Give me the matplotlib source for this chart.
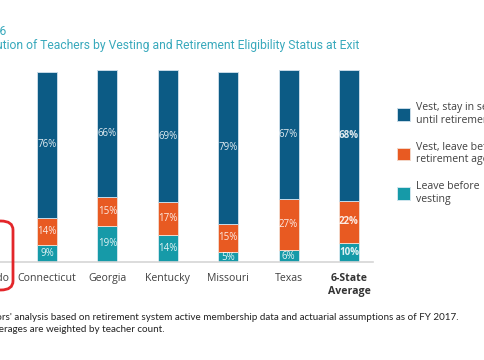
import matplotlib
matplotlib.use("Agg")
import matplotlib.pyplot as plt
import numpy as np
from matplotlib.patches import FancyBboxPatch

plt.rcParams['font.family'] = ['Open Sans', 'DejaVu Sans']

categories = ["Colorado", "Connecticut", "Georgia", "Kentucky", "Missouri", "Texas", "6-State\nAverage"]
stay_until_retire = [np.nan, 76, 66, 69, 79, 67, 68]
leave_before_age = [np.nan, 14, 15, 17, 15, 27, 22]
leave_before_vest = [np.nan, 9, 19, 14, 5, 6, 10]
series_labels = ["Vest, stay in service\nuntil retirement",
                 "Vest, leave before\nretirement age",
                 "Leave before\nvesting"]
title_fig = "Figure 6"
title_text = "Distribution of Teachers by Vesting and Retirement Eligibility Status at Exit"
source_text = "Source: Authors' analysis based on retirement system active membership data and actuarial assumptions as of FY 2017."
note_text = "Note: Averages are weighted by teacher count."

c_blue = "#0c5b85"
c_orange = "#e85a22"
c_teal = "#169aa8"
c_title = "#38a9bc"

W, H = 485, 360
fig = plt.figure(figsize=(W / 100, H / 100), dpi=100)
renderer = fig.canvas.get_renderer()


def fx(px):
    return px / W


def fy(py):
    return 1 - py / H


def fit_size(visible, width_px, family, base=9.0):
    size = base
    for _ in range(4):
        t = fig.text(0, 0, visible, fontsize=size, family=family)
        w = t.get_window_extent(renderer).width
        t.remove()
        size = size * width_px / w
    return size


# axes geometry in pixels: index i center = -13.4 + 60.4*i
xl = (-0.6, 6.4)
left_px = -13.4 + xl[0] * 60.4
right_px = -13.4 + xl[1] * 60.4
ax = fig.add_axes([fx(left_px), fy(262), (right_px - left_px) / W, 192 / H])
ax.set_xlim(*xl)
ax.set_ylim(0, 100)

x = np.arange(len(categories))
bw = 0.33
teal = np.array(leave_before_vest, dtype=float)
orng = np.array(leave_before_age, dtype=float)
blue = np.array(stay_until_retire, dtype=float)

ax.bar(x, teal, bw, color=c_teal, edgecolor="#cfe6ee", linewidth=0.7, label=series_labels[2])
ax.bar(x, orng, bw, bottom=teal, color=c_orange, edgecolor="#f3d7c8", linewidth=0.7, label=series_labels[1])
ax.bar(x, blue, bw, bottom=teal + orng, color=c_blue, edgecolor="#c8dbe8", linewidth=0.7, label=series_labels[0])

for i in range(len(categories)):
    if np.isnan(teal[i]):
        continue
    bold = i == len(categories) - 1
    fw = "bold" if bold else "normal"
    for val, bot in ((teal[i], 0), (orng[i], teal[i]), (blue[i], teal[i] + orng[i])):
        ax.text(x[i], bot + val / 2, f"{int(val)}%", ha="center", va="center",
                fontsize=7.0, color="white", alpha=0.88, fontweight=fw)

for s in ["top", "right", "left"]:
    ax.spines[s].set_visible(False)
ax.spines["bottom"].set_color("#d6d6d6")
ax.spines["bottom"].set_linewidth(1.2)
ax.set_yticks([])
ax.set_xticks(x)
ax.set_xticklabels(categories, fontsize=7.6, color="#404040")
ax.tick_params(axis="x", length=0, pad=8)
for lbl in ax.get_xticklabels():
    if "Average" in lbl.get_text():
        lbl.set_fontweight("bold")
        lbl.set_color("#333333")
        lbl.set_linespacing(1.2)

# legend
handles, labels = ax.get_legend_handles_labels()
order = [2, 1, 0]
leg = fig.legend([handles[k] for k in order], [labels[k] for k in order],
                 loc="upper left", bbox_to_anchor=(fx(392), fy(97)),
                 frameon=False, fontsize=7.6, labelcolor="#404040",
                 handlelength=1.2, handleheight=1.4, handletextpad=0.6,
                 labelspacing=1.5, borderpad=0)

# titles (cropped on the left as in the screenshot)
ts = fit_size("ution of Teachers by Vesting and Retirement Eligibility Status at Exit", 364, "Roboto")
fig.text(fx(6), fy(31), title_fig, ha="right", va="center", fontsize=ts, color=c_title, family="Roboto")
fig.text(fx(359), fy(46), title_text, ha="right", va="center", fontsize=ts, color=c_title, family="Roboto")

# footnotes
fs = fit_size("thors' analysis based on retirement system active membership data and actuarial assumptions as of FY 2017.", 467, "Lato")
fig.text(fx(459), fy(317), source_text, ha="right", va="center", fontsize=fs, color="#222222", family="Lato")
fig.text(fx(165), fy(329), note_text, ha="right", va="center", fontsize=fs, color="#222222", family="Lato")

# red highlight box
box = FancyBboxPatch((fx(-60), fy(290)), fx(73), (290 - 221) / H,
                     boxstyle="round,pad=0,rounding_size=0.025",
                     transform=fig.transFigure, fill=False,
                     edgecolor="#e3262a", linewidth=2.0)
fig.add_artist(box)

fig.savefig("out.png", dpi=100)
